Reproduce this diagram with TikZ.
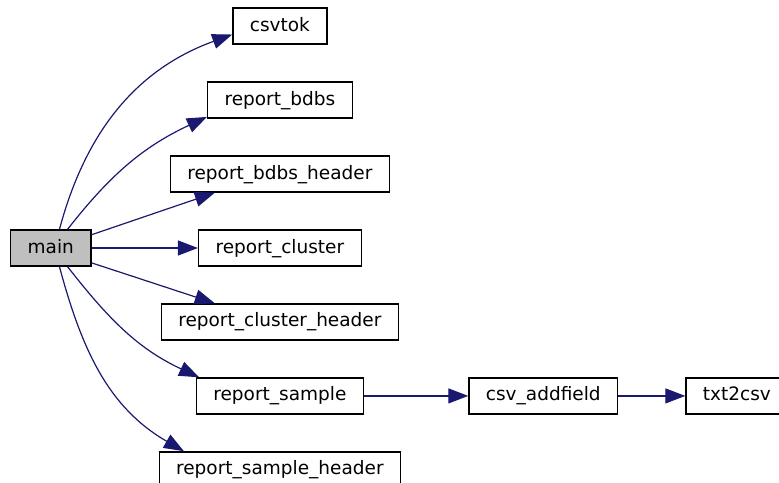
\documentclass[tikz,border=0pt]{standalone}
\usepackage{fontspec}
\setmainfont{DejaVu Sans}
\usetikzlibrary{matrix,arrows.meta}
\definecolor{edgeblue}{HTML}{191970}

\begin{document}
\begin{tikzpicture}[
	fn/.style={draw, line width=0.65pt, minimum height=18pt, inner xsep=8.5pt, text height=6.9pt, text depth=1.9pt, font=\fontsize{9.25pt}{11pt}\selectfont},
	call/.style={edgeblue, line width=0.6pt, -{Triangle[length=10pt,width=7.5pt]}}
]
\matrix (m) [matrix of nodes, nodes={fn}, row sep=18.33pt, column sep=33.5pt]
{
	& csvtok & & \\
	& report\_bdbs & & \\
	& report\_bdbs\_header & & \\
	|[fill=black!25]| main & report\_cluster & & \\
	& report\_cluster\_header & & \\
	& report\_sample & csv\_addfield & txt2csv \\
	& report\_sample\_header & & \\
};
\pgfresetboundingbox
\useasboundingbox ([xshift=-5pt,yshift=124pt]m-4-1.west) rectangle ([xshift=384.5pt,yshift=-117pt]m-4-1.west);
\path[call]
(m-4-1.65) edge[out=75,in=200] (m-1-2.190)
(m-4-1.48) edge[out=52,in=205] (m-2-2.193)
(m-4-1.18) edge (m-3-2.196)
(m-4-1.east) edge (m-4-2.west)
(m-4-1.340) edge (m-5-2.164)
(m-4-1.312) edge[out=-52,in=155] (m-6-2.167)
(m-4-1.295) edge[out=-75,in=150] (m-7-2.169)
(m-6-2) edge (m-6-3)
(m-6-3) edge (m-6-4)
;
\end{tikzpicture}
\end{document}
